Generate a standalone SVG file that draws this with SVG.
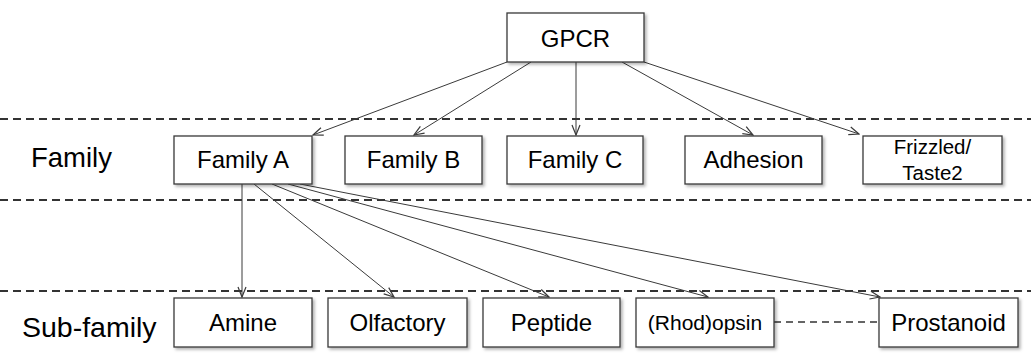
<svg xmlns="http://www.w3.org/2000/svg" width="1031" height="360" viewBox="0 0 1031 360">
<style>
.box{fill:#fff;stroke:#3a3a3a;stroke-width:1.3;filter:url(#sh)}
.t{font-family:"Liberation Sans",Arial,sans-serif;font-size:24px;fill:#000;text-anchor:middle}
.lbl{font-family:"Liberation Sans",Arial,sans-serif;font-size:27.5px;fill:#000}
.sep{stroke:#333;stroke-width:2;stroke-dasharray:8 5;fill:none}
.c{stroke:#3a3a3a;stroke-width:1;fill:none;marker-end:url(#ah)}
</style>
<defs>
<filter id="sh" x="-10%" y="-10%" width="125%" height="140%">
<feDropShadow dx="2" dy="2" stdDeviation="1.5" flood-color="#000" flood-opacity="0.3"/>
</filter>
<marker id="ah" viewBox="0 0 12 10" refX="11" refY="5" markerWidth="12" markerHeight="10" markerUnits="userSpaceOnUse" orient="auto">
<path d="M1,1 L11,5 L1,9" fill="none" stroke="#3a3a3a" stroke-width="1.2"/>
</marker>
</defs>
<rect width="1031" height="360" fill="#fff"/>
<g id="separators">
<line class="sep" x1="0" y1="119" x2="1031" y2="119"/>
<line class="sep" x1="0" y1="200" x2="1031" y2="200"/>
<line class="sep" x1="0" y1="291" x2="1031" y2="291"/>
</g>
<text class="lbl" x="31" y="167">Family</text>
<text class="lbl" x="22" y="337" style="font-size:28.5px">Sub-family</text>
<g id="connectors">
<line class="c" x1="507" y1="62" x2="313" y2="135"/>
<line class="c" x1="531" y1="62" x2="414" y2="135"/>
<line class="c" x1="576" y1="62" x2="576" y2="135"/>
<line class="c" x1="622" y1="62" x2="753" y2="135"/>
<line class="c" x1="644" y1="62" x2="859" y2="134"/>
<line class="c" x1="242" y1="184" x2="242" y2="297"/>
<line class="c" x1="254" y1="184" x2="394" y2="297"/>
<line class="c" x1="272" y1="184" x2="549" y2="297"/>
<line class="c" x1="288" y1="184" x2="708" y2="297"/>
<line class="c" x1="300" y1="184" x2="880" y2="297"/>
<line x1="774" y1="322" x2="879" y2="322" stroke="#333" stroke-width="1.5" stroke-dasharray="7 5"/>
</g>
<g id="gpcr"><rect class="box" x="507" y="13" width="137" height="49"/><text class="t" x="575.5" y="47">GPCR</text></g>
<g id="familyA"><rect class="box" x="174" y="136" width="138" height="48"/><text class="t" x="243" y="168">Family A</text></g>
<g id="familyB"><rect class="box" x="345" y="136" width="137" height="48"/><text class="t" x="413.5" y="168">Family B</text></g>
<g id="familyC"><rect class="box" x="507" y="136" width="136" height="48"/><text class="t" x="575" y="168">Family C</text></g>
<g id="adhesion"><rect class="box" x="685" y="136" width="137" height="48"/><text class="t" x="753.5" y="168">Adhesion</text></g>
<g id="frizzled"><rect class="box" x="863" y="136" width="139" height="48"/><text class="t" x="932.5" y="154" style="font-size:20.5px">Frizzled/</text><text class="t" x="932.5" y="180" style="font-size:20.5px">Taste2</text></g>
<g id="amine"><rect class="box" x="174" y="298" width="138" height="49"/><text class="t" x="243" y="331">Amine</text></g>
<g id="olfactory"><rect class="box" x="328" y="298" width="139" height="49"/><text class="t" x="397.5" y="331">Olfactory</text></g>
<g id="peptide"><rect class="box" x="483" y="298" width="137" height="49"/><text class="t" x="551.5" y="331">Peptide</text></g>
<g id="rhodopsin"><rect class="box" x="636" y="298" width="138" height="49"/><text class="t" x="705" y="330" style="font-size:21px">(Rhod)opsin</text></g>
<g id="prostanoid"><rect class="box" x="879" y="298" width="139" height="49"/><text class="t" x="948.5" y="331">Prostanoid</text></g>
</svg>
